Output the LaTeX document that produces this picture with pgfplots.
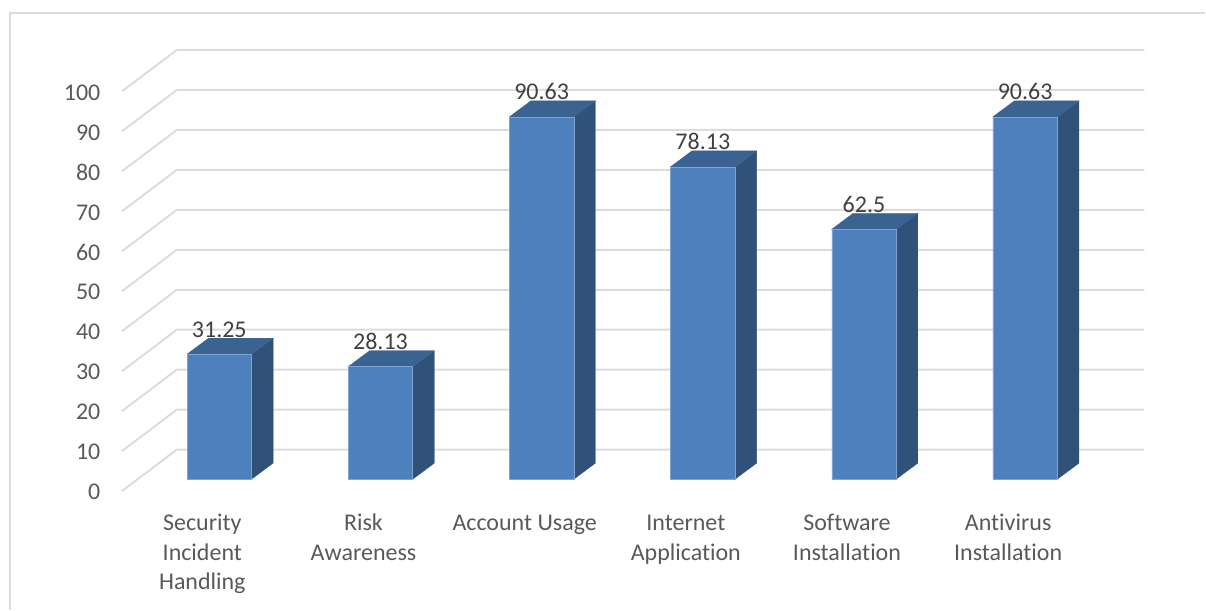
\documentclass[border=0pt]{standalone}
\usepackage{fontspec}
\setmainfont[Ligatures=NoCommon]{Carlito}
\usepackage{pgfplots}
\pgfplotsset{compat=1.18}
\definecolor{barfront}{HTML}{4E80BE}
\definecolor{bartop}{HTML}{3B6391}
\definecolor{barside}{HTML}{305279}
\definecolor{baredge}{HTML}{7FA3D2}
\definecolor{gridgrey}{HTML}{DCDCDC}
\definecolor{ticktext}{HTML}{595959}
\definecolor{valuetext}{HTML}{404040}
\newcommand{\firstline}{\rule{0pt}{18pt}}
\begin{document}
\begin{tikzpicture}
\begin{axis}[
  x=161.3pt, y=4pt,
  xmin=-0.6045, xmax=5.7396,
  ymin=-3, ymax=107.375,
  clip=false,
  axis line style={draw=none},
  major tick length=0pt,
  xtick={0,1,2,3,4,5},
  xticklabels={{\firstline Security\\Incident\\Handling},{\firstline Risk\\Awareness},{\firstline Account Usage},{\firstline Internet\\Application},{\firstline Software\\Installation},{\firstline Antivirus\\Installation}},
  xticklabel style={align=center, font=\fontsize{24}{29.5}\selectfont, text=ticktext, anchor=north, xshift=-17pt, yshift=-18pt},
  ytick={-3,7,17,27,37,47,57,67,77,87,97},
  yticklabels={0,10,20,30,40,50,60,70,80,90,100},
  yticklabel style={font=\fontsize{24}{29}\selectfont, text=ticktext, anchor=east, xshift=-18pt, yshift=-1pt},
  /pgf/number format/assume math mode=true,
]
% page frame
\draw[gridgrey, line width=2pt] (axis cs:-1.2988,-32.625) -- (axis cs:-1.2988,116.625) -- (axis cs:6.1159,116.625);
\path (axis cs:-1.3608,-32.625) rectangle (axis cs:6.1159,119.875);

% floor and back wall gridlines, one per tick
\pgfplotsset{every axis plot/.append style={forget plot}}
\addplot[gridgrey, line width=2pt, no markers] coordinates {(-0.6045,-3) (-0.2635,7.375) (5.7396,7.375)};
\addplot[gridgrey, line width=2pt, no markers] coordinates {(-0.6045,7) (-0.2635,17.375) (5.7396,17.375)};
\addplot[gridgrey, line width=2pt, no markers] coordinates {(-0.6045,17) (-0.2635,27.375) (5.7396,27.375)};
\addplot[gridgrey, line width=2pt, no markers] coordinates {(-0.6045,27) (-0.2635,37.375) (5.7396,37.375)};
\addplot[gridgrey, line width=2pt, no markers] coordinates {(-0.6045,37) (-0.2635,47.375) (5.7396,47.375)};
\addplot[gridgrey, line width=2pt, no markers] coordinates {(-0.6045,47) (-0.2635,57.375) (5.7396,57.375)};
\addplot[gridgrey, line width=2pt, no markers] coordinates {(-0.6045,57) (-0.2635,67.375) (5.7396,67.375)};
\addplot[gridgrey, line width=2pt, no markers] coordinates {(-0.6045,67) (-0.2635,77.375) (5.7396,77.375)};
\addplot[gridgrey, line width=2pt, no markers] coordinates {(-0.6045,77) (-0.2635,87.375) (5.7396,87.375)};
\addplot[gridgrey, line width=2pt, no markers] coordinates {(-0.6045,87) (-0.2635,97.375) (5.7396,97.375)};
\addplot[gridgrey, line width=2pt, no markers] coordinates {(-0.6045,97) (-0.2635,107.375) (5.7396,107.375)};

% side faces of the bars
\addplot[fill=barside, draw=barside, line width=0.3pt] coordinates {(0.2006,0) (0.3339,4) (0.3339,35.25) (0.2006,31.25)} --cycle;
\addplot[fill=barside, draw=barside, line width=0.3pt] coordinates {(1.2006,0) (1.3339,4) (1.3339,32.13) (1.2006,28.13)} --cycle;
\addplot[fill=barside, draw=barside, line width=0.3pt] coordinates {(2.2006,0) (2.3339,4) (2.3339,94.63) (2.2006,90.63)} --cycle;
\addplot[fill=barside, draw=barside, line width=0.3pt] coordinates {(3.2006,0) (3.3339,4) (3.3339,82.13) (3.2006,78.13)} --cycle;
\addplot[fill=barside, draw=barside, line width=0.3pt] coordinates {(4.2006,0) (4.3339,4) (4.3339,66.5) (4.2006,62.5)} --cycle;
\addplot[fill=barside, draw=barside, line width=0.3pt] coordinates {(5.2006,0) (5.3339,4) (5.3339,94.63) (5.2006,90.63)} --cycle;

% top faces of the bars
\addplot[fill=bartop, draw=bartop, line width=0.3pt] coordinates {(-0.2006,31.25) (-0.0673,35.25) (0.3339,35.25) (0.2006,31.25)} --cycle;
\addplot[fill=bartop, draw=bartop, line width=0.3pt] coordinates {(0.7994,28.13) (0.9327,32.13) (1.3339,32.13) (1.2006,28.13)} --cycle;
\addplot[fill=bartop, draw=bartop, line width=0.3pt] coordinates {(1.7994,90.63) (1.9327,94.63) (2.3339,94.63) (2.2006,90.63)} --cycle;
\addplot[fill=bartop, draw=bartop, line width=0.3pt] coordinates {(2.7994,78.13) (2.9327,82.13) (3.3339,82.13) (3.2006,78.13)} --cycle;
\addplot[fill=bartop, draw=bartop, line width=0.3pt] coordinates {(3.7994,62.5) (3.9327,66.5) (4.3339,66.5) (4.2006,62.5)} --cycle;
\addplot[fill=bartop, draw=bartop, line width=0.3pt] coordinates {(4.7994,90.63) (4.9327,94.63) (5.3339,94.63) (5.2006,90.63)} --cycle;

% front faces with their value labels
\addplot[ybar, bar width=64.4pt, fill=barfront, draw=baredge, line width=0.5pt,
  nodes near coords={\pgfmathprintnumber[precision=2]{\pgfplotspointmeta}},
  nodes near coords align={anchor=base, yshift=17pt},
  every node near coord/.append style={font=\fontsize{24}{29}\selectfont, text=valuetext, inner sep=0pt},
] coordinates {(0,31.25) (1,28.13) (2,90.63) (3,78.13) (4,62.5) (5,90.63)};
\end{axis}
\end{tikzpicture}
\end{document}
